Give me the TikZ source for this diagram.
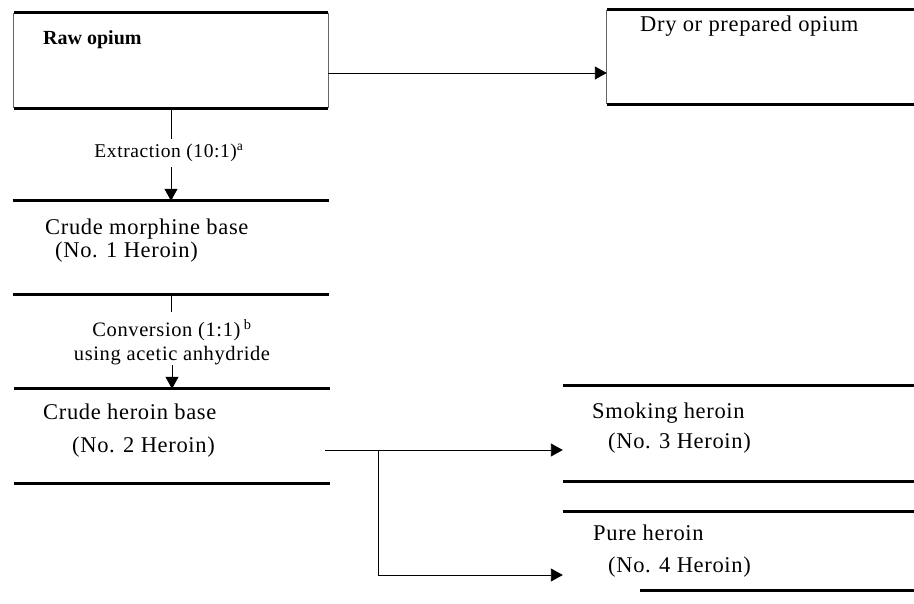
\documentclass[tikz,border=0pt]{standalone}
\usepackage{fontspec}
\setmainfont{Liberation Serif}[LetterSpace=3]
\newfontfamily\rawfont{Liberation Serif}
\usetikzlibrary{arrows.meta}
\begin{document}
\begin{tikzpicture}[x=1pt,y=-1pt,
  box/.style={draw=none,rectangle,inner sep=0pt},
  rule/.style={line width=3pt},
  side/.style={line width=0.8pt,draw=black!60},
  conn/.style={line width=0.9pt},
  arr/.style={conn,-{Triangle[length=12pt,width=13pt]}},
  txt/.style={anchor=base west,inner sep=0pt,font=\fontsize{22.5}{26}\selectfont},
  lbl/.style={anchor=base,inner xsep=0pt,font=\fontsize{20.5}{24}\selectfont}]
\useasboundingbox (0,0) rectangle (914,604);

% boxes
\node[box,minimum width=314pt,minimum height=95pt] (raw) at (171,60.5) {};
\node[box,minimum width=307pt,minimum height=94pt] (dry) at (760.5,57) {};
\node[box,minimum width=316pt,minimum height=93pt] (morph) at (171,247.5) {};
\node[box,minimum width=316pt,minimum height=94pt] (crude) at (172,436) {};
\node[box,minimum width=351pt,minimum height=95pt] (smoke) at (738.5,433.5) {};
\node[box,minimum width=351pt,minimum height=78pt] (pure) at (738.5,551) {};

% box rules
\draw[side] (raw.north west) -- (raw.south west) (raw.north east) -- (raw.south east);
\draw[side] (dry.north west) -- (dry.south west);
\draw[rule] (raw.north west) -- (raw.north east) (raw.south west) -- (raw.south east);
\draw[rule] (dry.north west) -- (dry.north east) (dry.south west) -- (dry.south east);
\draw[rule] (morph.north west) -- (morph.north east) (morph.south west) -- (morph.south east);
\draw[rule] (crude.north west) -- (crude.north east) (crude.south west) -- (crude.south east);
\draw[rule] (smoke.north west) -- (smoke.north east) (smoke.south west) -- (smoke.south east);
\draw[rule] (pure.north west) -- (pure.north east) ([xshift=77pt]pure.south west) -- (pure.south east);

% texts
\node[txt,font=\rawfont\fontsize{20}{24}\selectfont\bfseries] (rawt) at (43,45) {Raw opium};
\node[txt] (dryt) at (640,32) {Dry or prepared opium};
\node[txt] (morpht) at (45,235) {Crude morphine base};
\node[txt] (morpht2) at (55,258) {(No. 1 Heroin)};
\node[txt] (crudet) at (43,420) {Crude heroin base};
\node[txt] (crudet2) at (72,452) {(No. 2 Heroin)};
\node[txt] (smoket) at (592,418) {Smoking heroin};
\node[txt] (smoket2) at (608,448) {(No. 3 Heroin)};
\node[txt] (puret) at (593,540) {Pure heroin};
\node[txt] (puret2) at (608,572) {(No. 4 Heroin)};

% labels
\node[lbl,inner ysep=5pt,font=\fontsize{19.5}{24}\selectfont] (ext) at (169,158) {Extraction (10:1)\textsuperscript{a}};
\node[lbl,inner ysep=7pt] (conv1) at (172,337) {Conversion (1:1)\,\textsuperscript{b}};
\node[lbl,inner ysep=0.5pt] (conv2) at (172,360) {using acetic anhydride};

% connectors
\draw[conn] (raw.south) -- (raw.south |- ext.north);
\draw[arr] (morph.north |- ext.south) -- (morph.north);
\draw[conn] (morph.south) -- (morph.south |- conv1.north);
\draw[arr] (crude.north |- conv2.south) -- (crude.north);

\coordinate (a) at ([yshift=-12.5pt]raw.east);
\draw[arr] (a) -- (a -| dry.west);

\coordinate (b) at ([xshift=-5pt,yshift=-14pt]crude.east);
\draw[arr] (b) -- (b -| smoke.west);
\coordinate (c) at (378,450);
\coordinate (d) at ([yshift=-24pt]pure.west);
\draw[arr] (c) |- (d);
\end{tikzpicture}
\end{document}
